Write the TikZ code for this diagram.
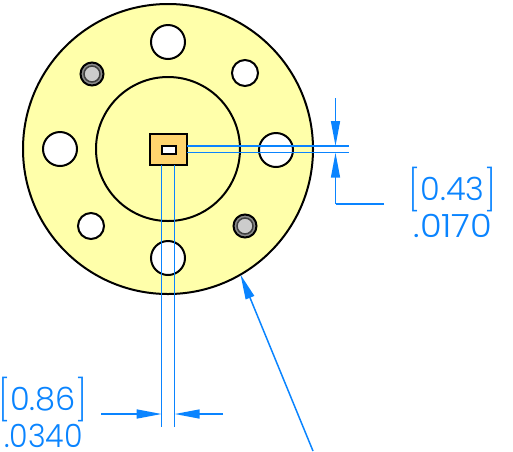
\documentclass[tikz,border=0pt]{standalone}
\usepackage{fontspec}
\setmainfont{Poppins Light}
\newfontfamily\brkfont{Poppins ExtraLight}
\usepackage{xcolor}
\usetikzlibrary{positioning,arrows.meta,calc}
\definecolor{dimblue}{RGB}{10,132,255}
\definecolor{flangeyellow}{RGB}{255,255,170}
\definecolor{cavityorange}{RGB}{255,213,110}
\newcommand{\brk}[1]{\raisebox{-4pt}{\brkfont\fontsize{40}{40}\selectfont #1}}

\begin{document}
\begin{tikzpicture}[
    x=1pt, y=-1pt,
    >=Stealth,
    flange/.style={
        circle, draw, fill=flangeyellow, line width=2pt,
        minimum size=290pt, inner sep=0pt, outer sep=0pt
    },
    bore/.style={
        circle, draw, fill=white, line width=2pt,
        minimum size=#1, inner sep=0pt, outer sep=0pt
    },
    pin/.style={
        circle, draw=black, fill=black!45, line width=2pt,
        minimum size=23pt, inner sep=0pt, outer sep=0pt
    },
    pintop/.style={
        circle, draw=black!75, fill=black!20, line width=1.5pt,
        minimum size=16pt, inner sep=0pt, outer sep=0pt
    },
    dimline/.style={draw=dimblue, line width=1.5pt},
    dimarrow/.style={dimline, -{Triangle[length=25pt,width=9pt]}},
    dimtext/.style={text=dimblue, font=\fontsize{32}{34}\selectfont, inner sep=0pt}
]
\useasboundingbox (0,0) rectangle (513,451);

% Flange body
\node[flange] (body) at (168,149) {};
\node[bore=144pt, fill=none] (boss) at (168,149) {};

% Holes round the flange
\node[bore=34pt] (holeN) at (168,42) {};
\node[bore=34pt] (holeE) at (276,150) {};
\node[bore=34pt] (holeW) at (60,149) {};
\node[bore=34pt] (holeS) at (168,258) {};
\node[bore=26pt] (holeNE) at (245,73) {};
\node[bore=26pt] (holeSW) at (91,226) {};

% Pins
\node[pin] (pinNW) at (92,74) {};
\node[pintop] at (pinNW) {};
\node[pin] (pinSE) at (245,226) {};
\node[pintop] at (pinSE) {};

% Cavity and slot
\node[draw, fill=cavityorange, line width=2pt, minimum width=37pt, minimum height=31pt, inner sep=0pt, outer sep=0pt] (cavity) at (168.5,149.5) {};
\node[draw, fill=white, line width=2pt, minimum width=14pt, minimum height=8pt, inner sep=0pt, outer sep=0pt] (slot) at (168.5,149.5) {};

% Extension lines
\coordinate (extA) at (349,146);
\coordinate (extB) at (349,152.7);
\coordinate (extC) at (161.7,427);
\coordinate (extD) at (174.7,427);
\draw[dimline] (cavity.east |- extA) -- (extA);
\draw[dimline] (cavity.east |- extB) -- (extB);
\draw[dimline] (extC |- cavity.south) -- (extC);
\draw[dimline] (extD |- cavity.south) -- (extD);

% Dimension on the right
\coordinate (rightTop) at (335.5,98);
\coordinate (rightElbow) at (335.5,204);
\coordinate (rightEnd) at (384,204);
\draw[dimarrow] (rightTop) -- (rightTop |- extA);
\draw[dimline] (rightEnd) -- (rightElbow);
\draw[dimarrow] (rightElbow) -- (rightElbow |- extB);
\node[dimtext] (labelRight) at (452.5,190) {\brk{[}0.43\brk{]}};
\node[dimtext] (inchRight) at (453,226) {\scalebox{1.1}[1]{.0170}};

% Dimension at the bottom
\coordinate (bottomLeft) at (101,414);
\coordinate (bottomRight) at (223,414);
\draw[dimarrow] (bottomLeft) -- (bottomLeft -| extC);
\draw[dimarrow] (bottomRight) -- (bottomRight -| extD);
\node[dimtext] (labelBottom) at (43,400) {\brk{[}0.86\brk{]}};
\node[dimtext] (inchBottom) at (43.5,436) {\scalebox{.94}[1]{.0340}};

% Leader to the flange
\coordinate (leaderEnd) at (313,451);
\draw[dimarrow] (leaderEnd) -- (body.-60);

\end{tikzpicture}
\end{document}
